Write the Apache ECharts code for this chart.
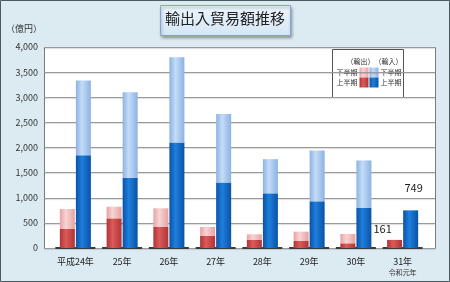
<!DOCTYPE html>
<html>
<head>
<meta charset="utf-8">
<script src="https://cdn.jsdelivr.net/npm/echarts@6/dist/echarts.min.js"></script>
<style>
  html, body { margin: 0; padding: 0; background: #dcebf2; }
  #chart { width: 450px; height: 282px; }
</style>
</head>
<body>
<div id="chart"></div>
<script>
// 年度
const years = ['平成24年', '25年', '26年', '27年', '28年', '29年', '30年', '31年'];
// 輸出 上半期 / 下半期
const exportFirst = [378, 590, 425, 245, 159, 139, 93, 161];
const exportSecond = [398, 232, 365, 173, 113, 186, 186, null];
// 輸入 上半期 / 下半期
const importFirst = [1848, 1400, 2100, 1305, 1088, 929, 796, 749];
const importSecond = [1485, 1700, 1697, 1362, 680, 1011, 946, null];
const yTicks = [0, 500, 1000, 1500, 2000, 2500, 3000, 3500, 4000];

function shade(edge, mid) {
    return {
        type: 'linear', x: 0, y: 0, x2: 1, y2: 0,
        colorStops: [
            {offset: 0, color: edge},
            {offset: 0.4, color: mid},
            {offset: 1, color: edge}
        ]
    };
}

const font = '"Noto Sans CJK JP", "Noto Sans", sans-serif';

let option = {
    animation: false,
    textStyle: {fontFamily: font},
    graphic: [
        {
            type: 'rect', left: 0, top: 0, z: 0,
            shape: {x: 0.5, y: 0.5, width: 449, height: 281},
            style: {fill: '#dcebf2', stroke: '#4a5a60', lineWidth: 1}
        },
        {
            type: 'rect', left: 44, top: 47, z: 0,
            shape: {width: 391, height: 201},
            style: {fill: '#ffffff', stroke: '#7a7a7a', lineWidth: 1}
        },
        {
            type: 'rect', left: 160, top: 5, z: 10,
            shape: {width: 130, height: 30},
            style: {
                fill: {type: 'linear', x: 0, y: 0, x2: 0, y2: 1,
                    colorStops: [{offset: 0, color: '#eef6fc'}, {offset: 1, color: '#d4e6f6'}]},
                stroke: '#7fa6d6', lineWidth: 1,
                shadowBlur: 3, shadowColor: 'rgba(0,0,0,0.35)', shadowOffsetX: 1, shadowOffsetY: 2
            }
        },
        {
            type: 'text', left: 'center', top: 11, z: 11,
            style: {text: '輸出入貿易額推移', fontSize: 15, fill: '#222', fontFamily: font}
        },
        {
            type: 'text', left: 6, top: 24,
            style: {text: '（億円）', fontSize: 9, fill: '#333', fontFamily: font}
        },
        // 凡例
        {
            type: 'group', left: 332, top: 49, z: 20,
            children: [
                {type: 'rect', shape: {x: 0, y: 0, width: 71, height: 48},
                    style: {fill: '#ffffff', stroke: '#555', lineWidth: 1}},
                {type: 'text', x: 14, y: 8, style: {text: '（輸出）', fontSize: 7, fill: '#333', fontFamily: font}},
                {type: 'text', x: 42, y: 8, style: {text: '（輸入）', fontSize: 7, fill: '#333', fontFamily: font}},
                {type: 'text', x: 4, y: 19, style: {text: '下半期', fontSize: 7, fill: '#333', fontFamily: font}},
                {type: 'text', x: 4, y: 29, style: {text: '上半期', fontSize: 7, fill: '#333', fontFamily: font}},
                {type: 'text', x: 48, y: 19, style: {text: '下半期', fontSize: 7, fill: '#333', fontFamily: font}},
                {type: 'text', x: 48, y: 29, style: {text: '上半期', fontSize: 7, fill: '#333', fontFamily: font}},
                {type: 'rect', shape: {x: 27, y: 18, width: 9, height: 10}, style: {fill: shade('#e8a4a4', '#f8d4d4')}},
                {type: 'rect', shape: {x: 27, y: 28, width: 9, height: 10}, style: {fill: shade('#b03434', '#dc5a5a')}},
                {type: 'rect', shape: {x: 37, y: 18, width: 9, height: 10}, style: {fill: shade('#8cb2e2', '#c4dcf8')}},
                {type: 'rect', shape: {x: 37, y: 28, width: 9, height: 10}, style: {fill: shade('#0a52a6', '#1e7fdc')}}
            ]
        }
    ],
    grid: [
        {left: 44, right: 15, top: 47, bottom: 34},
        {left: 52, right: 24, top: 47, bottom: 34}
    ],
    xAxis: [
        {gridIndex: 0, type: 'value', show: false, min: 0, max: 1},
        {
            gridIndex: 1, type: 'category', data: years,
            axisLine: {show: false}, axisTick: {show: false},
            axisLabel: {
                interval: 0, margin: 8, fontSize: 9, color: '#222', lineHeight: 11,
                formatter: function (v) {
                    return v === '31年' ? v + '\n{s|令和元年}' : v;
                },
                rich: {s: {fontSize: 7, color: '#333', lineHeight: 11}}
            }
        }
    ],
    yAxis: [
        {
            gridIndex: 0, type: 'value', min: 0, max: 4000, interval: 500,
            axisLine: {show: false}, axisTick: {show: false},
            axisLabel: {
                margin: 6, fontSize: 9, color: '#333',
                formatter: function (v) { return yTicks.indexOf(v) >= 0 ? v.toLocaleString('en-US') : ''; }
            },
            splitLine: {lineStyle: {color: '#9a9a9a', width: 1,
                shadowColor: 'rgba(0,0,0,0.15)', shadowOffsetY: 1, shadowBlur: 1}}
        },
        {gridIndex: 1, type: 'value', min: 0, max: 4000, show: false}
    ],
    series: [
        {
            name: '床', type: 'custom', xAxisIndex: 1, yAxisIndex: 1, z: 1,
            data: years.map(function (y, i) { return [i, 0]; }),
            renderItem: function (params, api) {
                const p = api.coord([api.value(0), 0]);
                return {
                    type: 'rect',
                    shape: {x: p[0] - 20, y: p[1] - 1, width: 40, height: 2},
                    style: {fill: '#3a3a3a'}
                };
            }
        },
        {
            name: '輸出 上半期', type: 'bar', stack: 'ex', xAxisIndex: 1, yAxisIndex: 1,
            barWidth: 15, barGap: '7%', z: 3,
            itemStyle: {color: shade('#b03434', '#dc5a5a')},
            data: exportFirst.map(function (v, i) {
                if (i === exportFirst.length - 1) {
                    return {value: v, label: {show: true, position: 'top', offset: [-12, -1],
                        fontSize: 11, color: '#222', formatter: '{c}'}};
                }
                return v;
            })
        },
        {
            name: '輸出 下半期', type: 'bar', stack: 'ex', xAxisIndex: 1, yAxisIndex: 1,
            barWidth: 15, barGap: '7%', z: 3,
            itemStyle: {color: shade('#e6a2a2', '#f8d4d4')},
            data: exportSecond
        },
        {
            name: '輸入 上半期', type: 'bar', stack: 'im', xAxisIndex: 1, yAxisIndex: 1,
            barWidth: 15, barGap: '7%', z: 3,
            itemStyle: {color: shade('#0a52a6', '#1e7fdc')},
            data: importFirst.map(function (v, i) {
                if (i === importFirst.length - 1) {
                    return {value: v, label: {show: true, position: 'top', offset: [3, -12],
                        fontSize: 11, color: '#222', formatter: '{c}'}};
                }
                return v;
            })
        },
        {
            name: '輸入 下半期', type: 'bar', stack: 'im', xAxisIndex: 1, yAxisIndex: 1,
            barWidth: 15, barGap: '7%', z: 3,
            itemStyle: {color: shade('#8cb2e2', '#c4dcf8')},
            data: importSecond
        }
    ]
};

let myChart = echarts.init(document.getElementById('chart'));
myChart.setOption(option);
</script>
</body>
</html>
